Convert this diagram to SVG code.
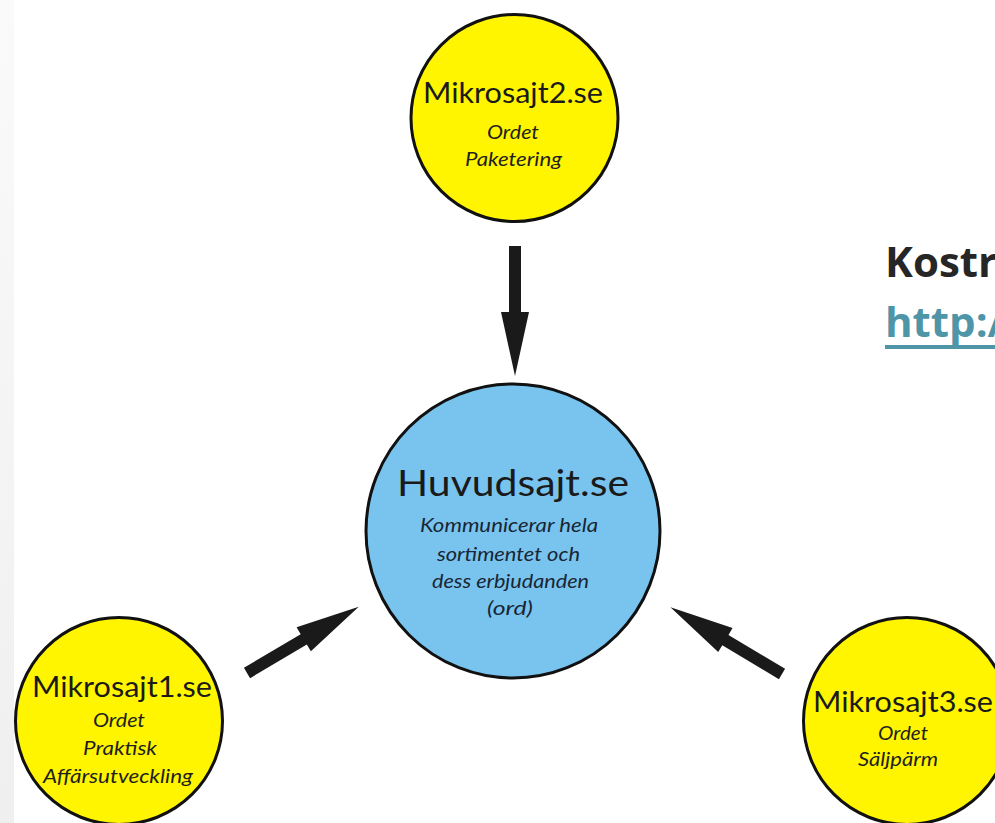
<svg xmlns="http://www.w3.org/2000/svg" xmlns:xlink="http://www.w3.org/1999/xlink" width="995" height="823" viewBox="0 0 995 823">
  <defs>
    <linearGradient id="strip" x1="0" y1="0" x2="0" y2="1">
      <stop offset="0" stop-color="#fafafa"/>
      <stop offset="1" stop-color="#efefef"/>
    </linearGradient>
    <path id="arrow" d="M0,-6 H66 V-14 L130,0 L66,14 V6 H0 Z"/>
  </defs>
  <style>
    .yellow { fill: #fff500; stroke: #111; stroke-width: 3; }
    .blue { fill: #78c4ef; stroke: #111; stroke-width: 3; }
    .title { font-family: Lato, "Open Sans", "Liberation Sans", sans-serif; fill: #1a1a1a; text-anchor: middle; }
    .sub { font-family: Lato, "Open Sans", "Liberation Sans", sans-serif; font-style: italic; fill: #1f1f1f; text-anchor: middle; font-size: 20px; }
    .subb { fill: #1a2633; }
    .conn use { fill: #1a1a1a; }
  </style>
  <rect x="0" y="0" width="995" height="823" fill="#ffffff"/>
  <rect x="0" y="0" width="14" height="823" fill="url(#strip)"/>

  <g id="connectors" class="conn">
    <use xlink:href="#arrow" transform="translate(515,246) rotate(90)"/>
    <use xlink:href="#arrow" transform="translate(247,673) rotate(-30.7)"/>
    <use xlink:href="#arrow" transform="translate(782,674) rotate(-149.1)"/>
  </g>

  <g id="mikrosajt2">
    <circle class="yellow" cx="514.5" cy="118" r="103.5"/>
    <text class="title" x="513" y="103" font-size="29" textLength="180" lengthAdjust="spacingAndGlyphs">Mikrosajt2.se</text>
    <text class="sub" x="513" y="139" textLength="52" lengthAdjust="spacingAndGlyphs">Ordet</text>
    <text class="sub" x="513.5" y="166" textLength="97" lengthAdjust="spacingAndGlyphs">Paketering</text>
  </g>

  <g id="huvudsajt">
    <circle class="blue" cx="513" cy="531" r="147"/>
    <text class="title" x="513" y="496" font-size="37" textLength="232" lengthAdjust="spacingAndGlyphs">Huvudsajt.se</text>
    <text class="sub subb" x="509" y="532" textLength="178" lengthAdjust="spacingAndGlyphs">Kommunicerar hela</text>
    <text class="sub subb" x="508.5" y="561" textLength="143" lengthAdjust="spacingAndGlyphs">sortimentet och</text>
    <text class="sub subb" x="510.5" y="588" textLength="157" lengthAdjust="spacingAndGlyphs">dess erbjudanden</text>
    <text class="sub subb" x="510" y="615" textLength="46" lengthAdjust="spacingAndGlyphs">(ord)</text>
  </g>

  <g id="mikrosajt1">
    <circle class="yellow" cx="119" cy="721" r="103.5"/>
    <text class="title" x="122" y="697" font-size="29" textLength="180" lengthAdjust="spacingAndGlyphs">Mikrosajt1.se</text>
    <text class="sub" x="119" y="727" textLength="52" lengthAdjust="spacingAndGlyphs">Ordet</text>
    <text class="sub" x="120" y="755" textLength="74" lengthAdjust="spacingAndGlyphs">Praktisk</text>
    <text class="sub" x="118" y="783" textLength="150" lengthAdjust="spacingAndGlyphs">Affärsutveckling</text>
  </g>

  <g id="mikrosajt3">
    <circle class="yellow" cx="907" cy="721" r="103.5"/>
    <text class="title" x="903" y="712" font-size="29" textLength="180" lengthAdjust="spacingAndGlyphs">Mikrosajt3.se</text>
    <text class="sub" x="903" y="740" textLength="50" lengthAdjust="spacingAndGlyphs">Ordet</text>
    <text class="sub" x="898" y="766" textLength="80" lengthAdjust="spacingAndGlyphs">Säljpärm</text>
  </g>

  <g id="caption">
    <text x="885" y="277" font-family="'Open Sans', 'Liberation Sans', sans-serif" font-weight="bold" font-size="42" fill="#262626">Kostr</text>
    <text x="885" y="337" font-family="'Open Sans', 'Liberation Sans', sans-serif" font-weight="bold" font-size="42" fill="#4e95a8">http:/</text>
    <rect x="885" y="345" width="110" height="4" fill="#4e95a8"/>
  </g>
</svg>
